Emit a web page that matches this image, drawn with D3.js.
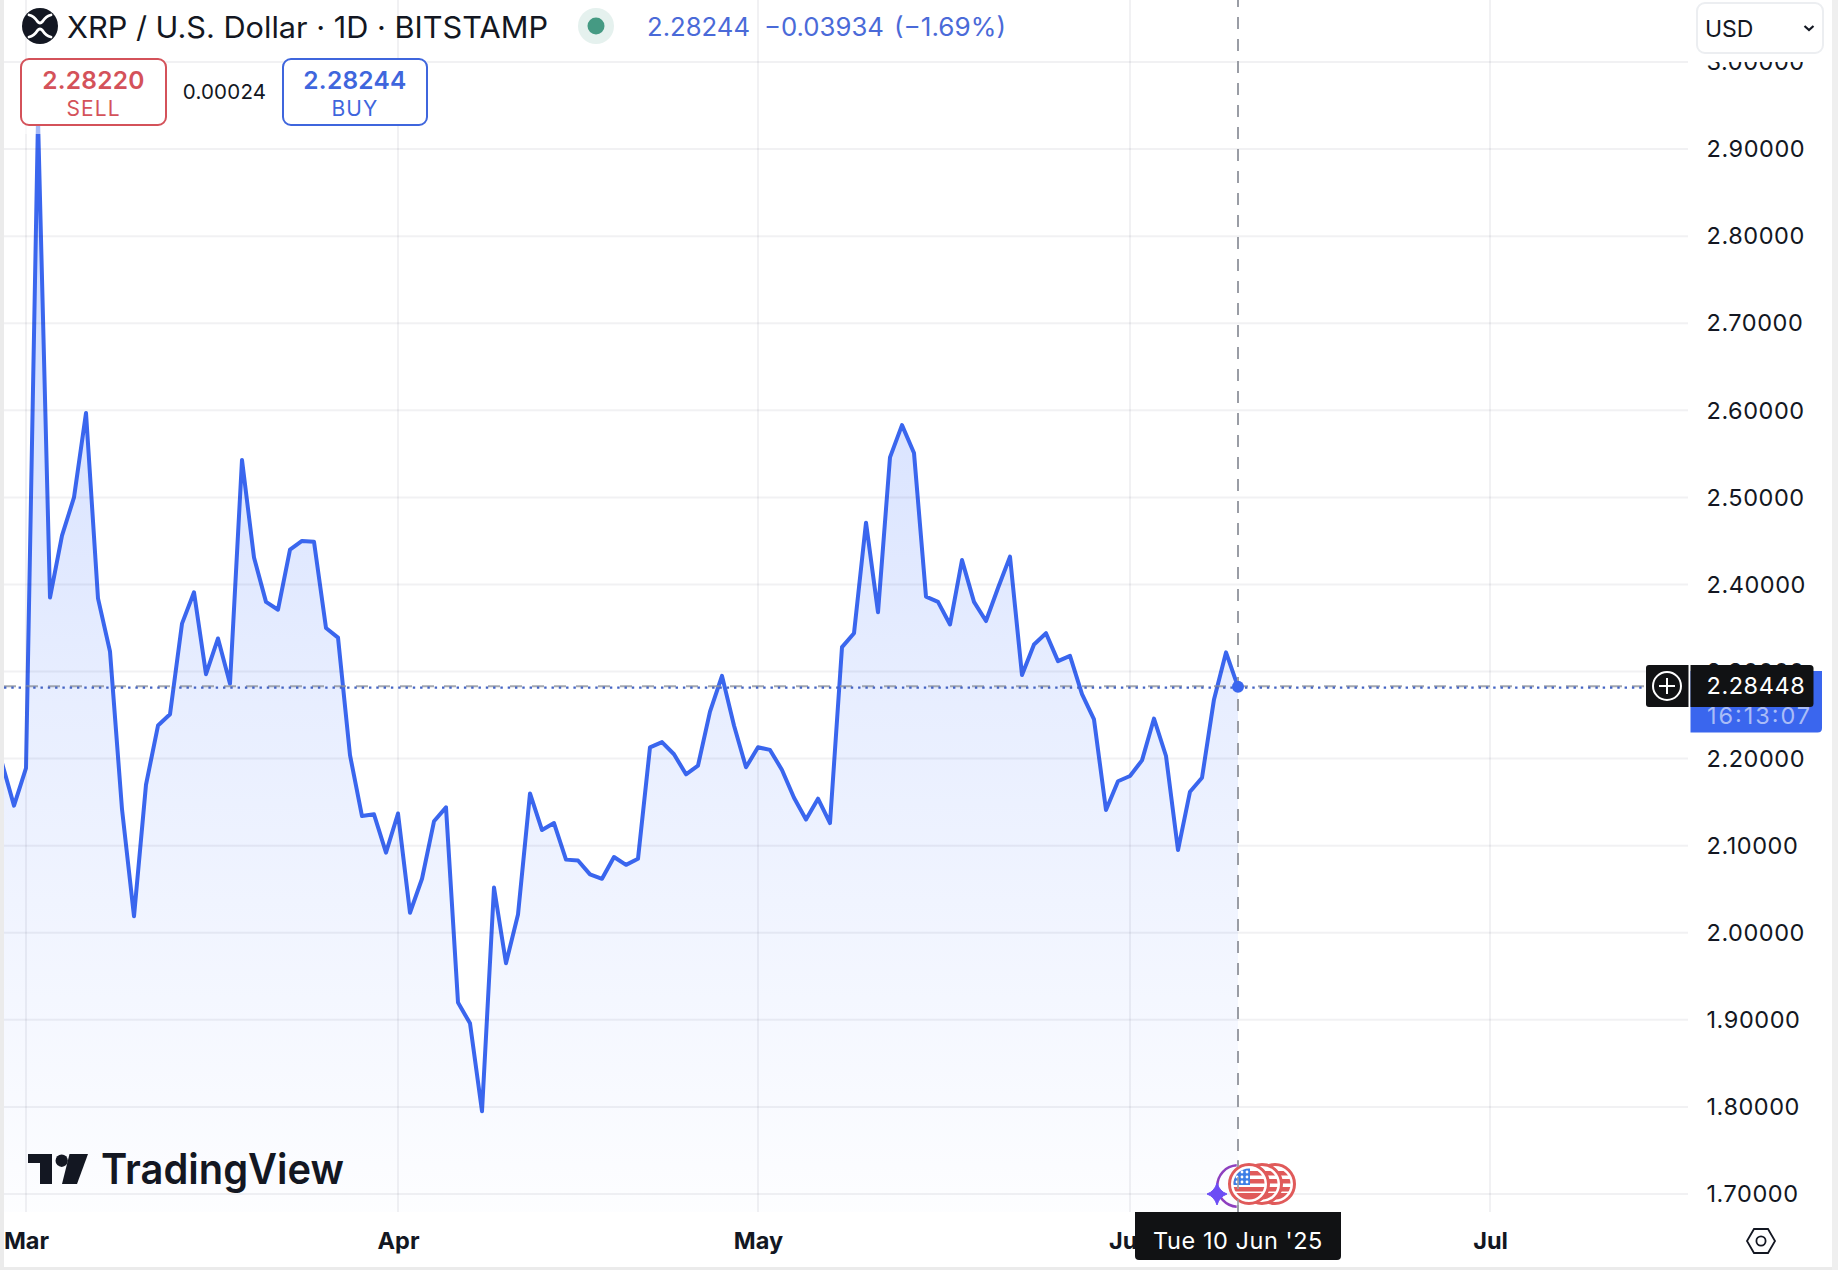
<!DOCTYPE html>
<html><head><meta charset="utf-8">
<script src="https://cdn.jsdelivr.net/npm/d3@7"></script>
<style>
html,body{margin:0;padding:0;background:#fff;overflow:hidden}
svg{display:block}
text{font-family:Inter,"Noto Sans",sans-serif}
</style></head><body>
<svg id="c" width="1838" height="1270"></svg>
<script>
const title = "XRP / U.S. Dollar · 1D · BITSTAMP";
const firstDay = "2025-02-27";
const closes = [2.195,2.146,2.189,2.935,2.385,2.456,2.500,2.597,2.384,2.323,2.142,2.019,2.170,2.238,2.251,2.355,2.391,2.297,2.338,2.286,2.543,2.431,2.380,2.371,2.440,2.450,2.449,2.350,2.339,2.204,2.134,2.136,2.092,2.137,
2.023,2.062,2.128,2.144,1.920,1.896,1.795,2.052,1.965,2.021,2.160,2.118,2.126,2.084,2.083,2.067,2.062,2.087,2.078,2.085,2.213,2.219,2.205,2.182,2.192,2.254,2.295,2.238,2.190,
2.213,2.210,2.187,2.155,2.130,2.154,2.126,2.328,2.344,2.471,2.368,2.546,2.583,2.551,2.386,2.380,2.354,2.428,2.380,2.358,2.396,2.432,2.296,2.331,2.344,2.312,2.318,2.274,2.245,2.141,2.174,
2.180,2.198,2.246,2.203,2.095,2.162,2.178,2.268,2.322,2.2824];
const priceTicks = [1.7,1.8,1.9,2.0,2.1,2.2,2.3,2.4,2.5,2.6,2.7,2.8,2.9,3.0];
const monthTicks = ["2025-03-01","2025-04-01","2025-05-01","2025-06-01","2025-07-01"];
const monthNames = ["Mar","Apr","May","Jun","Jul"];
const lastPrice = "2.28244", change = "−0.03934", changePct = "(−1.69%)";
const sellPrice = "2.28220", buyPrice = "2.28244", spread = "0.00024";
const crossPrice = "2.28448", countdown = "16:13:07", crossDate = "Tue 10 Jun '25";
const linePrice = 2.28244;

const parse = d3.utcParse("%Y-%m-%d");
const svg = d3.select("#c");
const BLUE="#3a66ee", INK="#131722", GRID="rgba(40,50,80,0.065)";
const x = d3.scaleUtc().domain([parse("2025-03-01"),parse("2025-07-01")]).range([26,1490]);
const y = d3.scaleLinear().domain([1.7,3.0]).range([1194,62]);
const pts = closes.map((v,i)=>({d:d3.utcDay.offset(parse(firstDay),i),v}));
const lastPt = pts[pts.length-1];
const paneBottom=1212, paneRight=1688, left=4;

const defs=svg.append("defs");
defs.append("clipPath").attr("id","pane").append("rect").attr("x",left).attr("y",0).attr("width",paneRight-left).attr("height",paneBottom);
defs.append("clipPath").attr("id","axisclip").append("rect").attr("x",1690).attr("y",62).attr("width",148).attr("height",1160);
const g=defs.append("linearGradient").attr("id","fill").attr("gradientUnits","userSpaceOnUse").attr("x1",0).attr("x2",0).attr("y1",125).attr("y2",paneBottom);
g.append("stop").attr("offset",0).attr("stop-color","#2962ff").attr("stop-opacity",0.24);
g.append("stop").attr("offset",0.5).attr("stop-color","#2962ff").attr("stop-opacity",0.115);
g.append("stop").attr("offset",1).attr("stop-color","#2962ff").attr("stop-opacity",0.01);

const pane=svg.append("g").attr("clip-path","url(#pane)");
pane.append("path").datum(pts).attr("fill","url(#fill)")
 .attr("d",d3.area().x(p=>x(p.d)).y0(paneBottom).y1(p=>y(p.v)));
svg.append("g").selectAll("line").data(priceTicks).join("line")
 .attr("x1",left).attr("x2",paneRight).attr("y1",d=>y(d)).attr("y2",d=>y(d))
 .attr("stroke",GRID).attr("stroke-width",2);
svg.append("g").selectAll("line").data(monthTicks).join("line")
 .attr("x1",d=>x(parse(d))).attr("x2",d=>x(parse(d))).attr("y1",0).attr("y2",paneBottom)
 .attr("stroke",GRID).attr("stroke-width",2);
pane.append("path").datum(pts).attr("fill","none").attr("stroke",BLUE).attr("stroke-width",4)
 .attr("stroke-linejoin","round").attr("d",d3.line().x(p=>x(p.d)).y(p=>y(p.v)));
svg.append("rect").attr("x",24).attr("y",125).attr("width",30).attr("height",9).attr("fill","#fff").attr("fill-opacity",0.55);

// price lines
svg.append("line").attr("x1",left).attr("x2",1646).attr("y1",y(linePrice)-0.5).attr("y2",y(linePrice)-0.5)
 .attr("stroke","#8f929b").attr("stroke-width",2).attr("stroke-dasharray","12 10").attr("stroke-opacity",.8);
svg.append("line").attr("x1",left).attr("x2",1646).attr("y1",y(linePrice)+0.8).attr("y2",y(linePrice)+0.8)
 .attr("stroke","#4464c4").attr("stroke-width",2.4).attr("stroke-dasharray","2.4 4.9");
// crosshair
svg.append("line").attr("x1",x(lastPt.d)).attr("x2",x(lastPt.d)).attr("y1",-5).attr("y2",paneBottom)
 .attr("stroke","#9a9da5").attr("stroke-width",2).attr("stroke-dasharray","12 10");
svg.append("circle").attr("cx",x(lastPt.d)).attr("cy",y(lastPt.v)).attr("r",6).attr("fill",BLUE);

// y axis
const yAxis=svg.append("g").attr("clip-path","url(#axisclip)").append("g").attr("transform","translate(1706.5,0)")
 .call(d3.axisRight(y).tickValues(priceTicks).tickSize(0).tickPadding(0).tickFormat(d=>d.toFixed(5)));
yAxis.select(".domain").remove();
yAxis.selectAll("text").attr("fill",INK).attr("font-size",23.5).attr("font-family",'Inter').attr("letter-spacing",.55).attr("dy","0.33em").attr("x",0);
// x axis
const xAxis=svg.append("g").attr("transform","translate(0,1241)")
 .call(d3.axisBottom(x).tickValues(monthTicks.map(parse)).tickSize(0).tickPadding(0).tickFormat((d,i)=>monthNames[i]));
xAxis.select(".domain").remove();
xAxis.selectAll("text").attr("fill",INK).attr("font-size",23.5).attr("font-weight",700).attr("font-family",'Inter').attr("dy","0.33em").attr("y",0);

// watermark
const wm=svg.append("g").attr("fill","#131722");
wm.append("path").attr("d","M28 1154H52V1184H40V1163H28Z");
wm.append("circle").attr("cx",61.7).attr("cy",1160.7).attr("r",6.2);
wm.append("path").attr("d","M69.5 1154H88L77 1184H62Z");
wm.append("text").attr("x",101).attr("y",1184).attr("font-size",42).attr("font-weight",600).attr("textLength",243).attr("lengthAdjust","spacingAndGlyphs").text("TradingView");

// events
const ev=svg.append("g");
ev.append("path").attr("d",d3.arc()({innerRadius:19.5,outerRadius:22,startAngle:Math.PI*1.02,endAngle:Math.PI*1.98})).attr("transform","translate(1238,1186)").attr("fill","#8e3fbf");
const coinDefs=defs.append("clipPath").attr("id","coin").append("circle").attr("r",15.5);
[1275,1262,1249].forEach(cx=>{
 const c=ev.append("g").attr("transform",`translate(${cx},1184)`);
 c.append("circle").attr("r",19.5).attr("fill","#fff").attr("stroke","#e05a5a").attr("stroke-width",3);
 const f=c.append("g").attr("clip-path","url(#coin)");
 f.append("rect").attr("x",-17).attr("y",-17).attr("width",34).attr("height",34).attr("fill","#fff");
 [-13,-5,3,9].forEach(o=>f.append("rect").attr("x",-17).attr("y",o).attr("width",34).attr("height",o===9?9:4.5).attr("fill","#e05a5a"));
 f.append("rect").attr("x",-17).attr("y",-17).attr("width",18).attr("height",18).attr("fill","#3d7fe6");
 [-12,-7,-2].forEach(sy=>[-12,-7,-2].forEach(sx=>f.append("circle").attr("cx",sx).attr("cy",sy).attr("r",1.4).attr("fill","#fff")));
});
ev.append("path").attr("d","M1217 1183Q1219.5 1191.5 1227 1194Q1219.5 1196.5 1217 1205Q1214.5 1196.5 1207 1194Q1214.5 1191.5 1217 1183Z").attr("fill","#6c4df5").attr("stroke","#6c4df5").attr("stroke-width",1);
ev.append("line").attr("x1",x(lastPt.d)).attr("x2",x(lastPt.d)).attr("y1",1160).attr("y2",1212).attr("stroke","#9a9da5").attr("stroke-opacity",.8).attr("stroke-width",2).attr("stroke-dasharray","12 10").attr("stroke-dashoffset",5);
// date label
svg.append("path").attr("d","M1135 1212H1341V1256Q1341 1260 1337 1260H1139Q1135 1260 1135 1256Z").attr("fill","#111214");
svg.append("text").attr("x",1238).attr("y",1241).attr("dy","0.33em").attr("text-anchor","middle").attr("fill","#fff").attr("font-size",23.5).attr("letter-spacing",.55).text(crossDate);

// price tags
svg.append("path").attr("d","M1690.5 671H1822V728Q1822 732.5 1817.5 732.5H1690.5Z").attr("fill",BLUE);
svg.append("text").attr("x",1707).attr("y",716.5).attr("dy","0.33em").attr("fill","#a9bcf7").attr("font-size",23.5).attr("textLength",103).text(countdown);
svg.append("path").attr("d","M1690.5 665H1810Q1813.5 665 1813.5 668.5V703.5Q1813.5 707 1810 707H1690.5Z").attr("fill","#111214");
svg.append("text").attr("x",1706.5).attr("y",686).attr("dy","0.33em").attr("fill","#fff").attr("font-size",23.5).attr("letter-spacing",.55).text(crossPrice);
svg.append("path").attr("d","M1649 665H1688.5V707H1649Q1646 707 1646 704V668Q1646 665 1649 665Z").attr("fill","#111214");
svg.append("circle").attr("cx",1667).attr("cy",686).attr("r",14).attr("fill","none").attr("stroke","#fff").attr("stroke-width",2);
svg.append("path").attr("d","M1659 686H1675M1667 678V694").attr("stroke","#fff").attr("stroke-width",2);

// header
const lg=svg.append("g").attr("transform","translate(40,26)");
lg.append("circle").attr("r",18).attr("fill","#131722");
lg.append("path").attr("d","M-11 -11Q-6 -10 -2.5 -4.5Q0 -1.5 2.5 -4.5Q6 -10 11 -11M-11 11Q-6 10 -2.5 4.5Q0 1.5 2.5 4.5Q6 10 11 11").attr("fill","none").attr("stroke","#fff").attr("stroke-width",2.8).attr("stroke-linecap","round");
svg.append("text").attr("x",67).attr("y",27).attr("dy","0.36em").attr("font-size",29.5).attr("fill",INK).attr("textLength",481).attr("lengthAdjust","spacingAndGlyphs").text(title);
svg.append("circle").attr("cx",596).attr("cy",26).attr("r",18).attr("fill","#e5f1ee");
svg.append("circle").attr("cx",596).attr("cy",26).attr("r",8.5).attr("fill","#459a83");
const HB="#4a6ad8";
[[647,103,lastPrice],[764,120,change],[894,112,changePct]].forEach(([tx,w,s])=>
 svg.append("text").attr("x",tx).attr("y",27).attr("dy","0.36em").attr("font-size",25).attr("fill",HB).attr("textLength",w).attr("lengthAdjust","spacingAndGlyphs").text(s));

// sell / buy
function box(x0,w,col,price,lab){
 svg.append("rect").attr("x",x0).attr("y",59).attr("width",w).attr("height",66).attr("rx",8).attr("fill","#fff").attr("stroke",col).attr("stroke-width",2);
 svg.append("text").attr("x",x0+w/2).attr("y",80.5).attr("dy","0.36em").attr("text-anchor","middle").attr("fill",col).attr("font-size",24.5).attr("font-weight",600).attr("letter-spacing",.25).text(price);
 svg.append("text").attr("x",x0+w/2).attr("y",108).attr("dy","0.36em").attr("text-anchor","middle").attr("fill",col).attr("font-size",21).attr("letter-spacing",1.1).text(lab);
}
box(21,145,"#d4525a",sellPrice,"SELL");
box(283,144,"#3f66dd",buyPrice,"BUY");
svg.append("text").attr("x",224.5).attr("y",92).attr("dy","0.36em").attr("text-anchor","middle").attr("fill",INK).attr("font-size",20.5).attr("letter-spacing",.2).text(spread);

// currency box
svg.append("rect").attr("x",1697).attr("y",3).attr("width",126).attr("height",50).attr("rx",8).attr("fill","#fff").attr("stroke","#eceef1").attr("stroke-width",2);
svg.append("text").attr("x",1705).attr("y",29).attr("dy","0.36em").attr("fill",INK).attr("font-size",23).text("USD");
svg.append("path").attr("d","M1804.5 26L1809 30L1813.5 26").attr("fill","none").attr("stroke",INK).attr("stroke-width",2.2);

// settings hexagon
svg.append("path").attr("d","M1747 1241L1754 1229H1768L1775 1241L1768 1253H1754Z").attr("fill","none").attr("stroke",INK).attr("stroke-width",1.8);
svg.append("circle").attr("cx",1761).attr("cy",1241).attr("r",4.6).attr("fill","none").attr("stroke",INK).attr("stroke-width",1.8);

// page frame
svg.append("rect").attr("x",0).attr("y",0).attr("width",4).attr("height",1270).attr("fill","#ebebeb");
svg.append("rect").attr("x",0).attr("y",1267).attr("width",1838).attr("height",3).attr("fill","#ebebeb");
svg.append("rect").attr("x",1832).attr("y",0).attr("width",6).attr("height",1270).attr("fill","#efefef");
</script></body></html>
